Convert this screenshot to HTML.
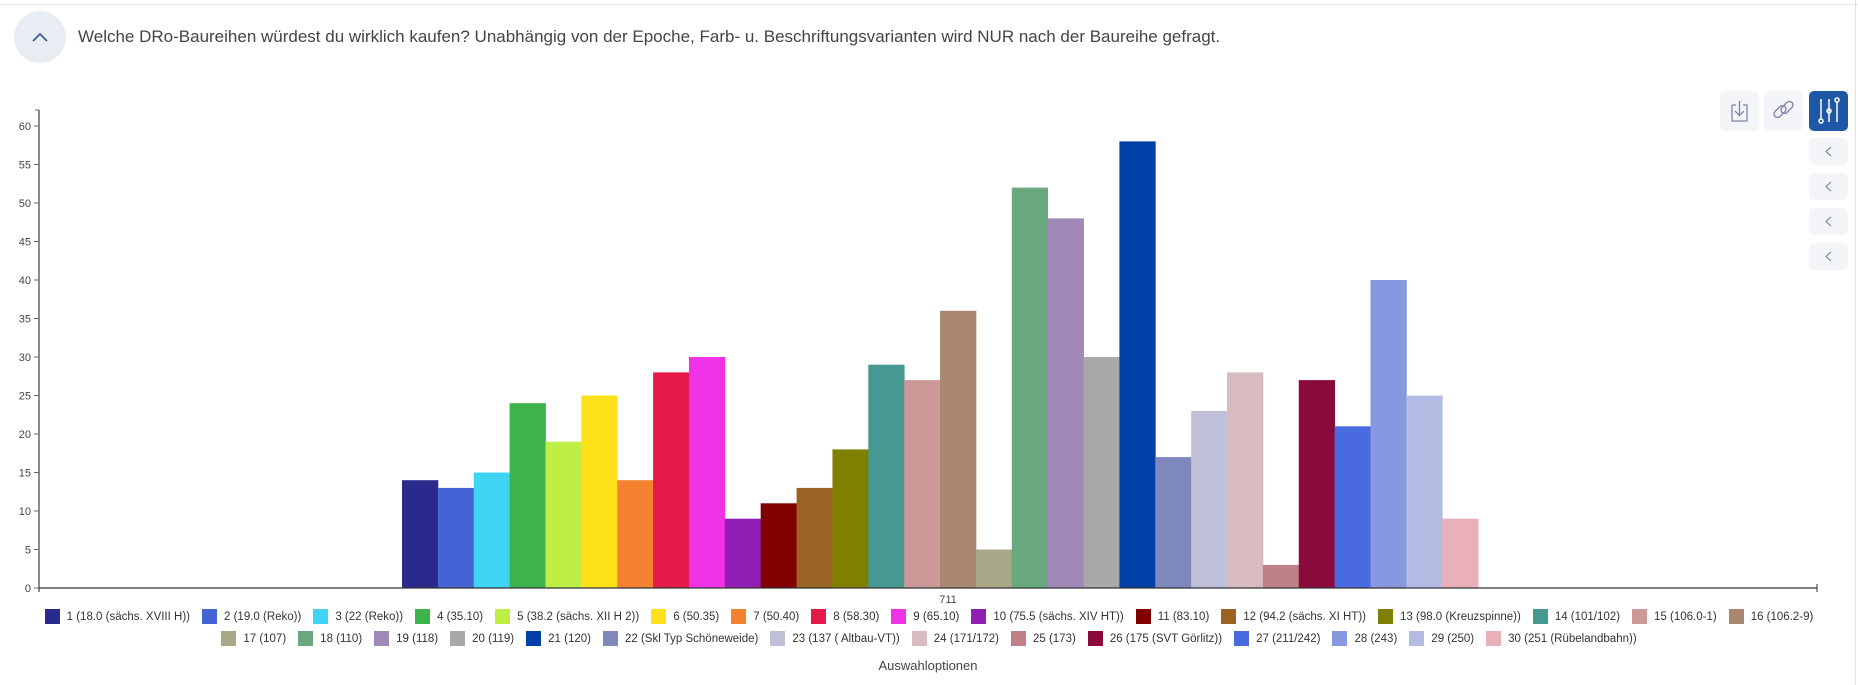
<!DOCTYPE html>
<html><head><meta charset="utf-8"><style>
body{margin:0;width:1858px;height:685px;background:#fff;font-family:"Liberation Sans",sans-serif;position:relative;overflow:hidden}
.top{position:absolute;left:0;top:0;width:1858px;height:4px;border-bottom:1px solid #e6e6e6}
.rb{position:absolute;right:2px;top:0;width:1px;height:685px;background:#e0e0e0}
.circ{position:absolute;left:14px;top:11px;width:52px;height:52px;border-radius:50%;background:#e8edf4}
.title{position:absolute;left:78px;top:27px;font-size:17px;color:#444}
.btn{position:absolute;width:39px;height:40px;border-radius:5px;background:#f3f5f9}
.row{position:absolute;left:0;width:1858px;display:flex;justify-content:center;font-size:11.5px;color:#333;white-space:nowrap}
.row span{display:inline-flex;align-items:center;margin:0 6px}
.row i{display:inline-block;width:15px;height:15px;margin-right:7px}
</style></head><body>
<div class="top"></div><div class="rb"></div>
<div class="circ"><svg width="52" height="52"><path d="M19 30 L26 23 L33 30" fill="none" stroke="#3a5a8c" stroke-width="1.8"/></svg></div>
<div class="title">Welche DRo-Baureihen würdest du wirklich kaufen? Unabhängig von der Epoche, Farb- u. Beschriftungsvarianten wird NUR nach der Baureihe gefragt.</div>
<div class="btn" style="left:1720px;top:91px"><svg width="39" height="40"><path d="M12 14 H16 M23 14 H27 V30 H12 V14 M19.5 10 V24 M15 20 L19.5 24.5 L24 20" fill="none" stroke="#7a88a8" stroke-width="1.3"/></svg></div>
<div class="btn" style="left:1764px;top:91px"><svg width="39" height="40"><g fill="none" stroke="#7a88a8" stroke-width="1.4"><rect x="9" y="17" width="14" height="7" rx="3.5" transform="rotate(-45 16 20.5)"/><rect x="16" y="13" width="14" height="7" rx="3.5" transform="rotate(-45 23 16.5)"/></g></svg></div>
<div class="btn" style="left:1809px;top:91px;background:#1e57a6"><svg width="39" height="40"><g stroke="#fff" stroke-width="1.5" fill="none"><path d="M12 8 V28 M20 8 V31 M28 11 V31"/><circle cx="12" cy="30" r="2"/><circle cx="20" cy="20" r="2"/><circle cx="28" cy="9" r="2"/></g></svg></div>
<div class="btn" style="left:1809px;top:138px;height:27px"><svg width="39" height="27"><path d="M22 9 L17 13.5 L22 18" fill="none" stroke="#8090a8" stroke-width="1.2"/></svg></div>
<div class="btn" style="left:1809px;top:173px;height:27px"><svg width="39" height="27"><path d="M22 9 L17 13.5 L22 18" fill="none" stroke="#8090a8" stroke-width="1.2"/></svg></div>
<div class="btn" style="left:1809px;top:208px;height:27px"><svg width="39" height="27"><path d="M22 9 L17 13.5 L22 18" fill="none" stroke="#8090a8" stroke-width="1.2"/></svg></div>
<div class="btn" style="left:1809px;top:243px;height:27px"><svg width="39" height="27"><path d="M22 9 L17 13.5 L22 18" fill="none" stroke="#8090a8" stroke-width="1.2"/></svg></div>
<svg style="position:absolute;left:0;top:0" width="1858" height="685" id="ch">
<g font-family="Liberation Sans,sans-serif" font-size="11" fill="#444" text-anchor="end" id="yt"></g>
<g id="bars"></g>
<line x1="39" y1="110" x2="39" y2="592" stroke="#666" stroke-width="1.5"/>
<line x1="39" y1="588" x2="1817" y2="588" stroke="#333" stroke-width="1.2"/>
<line x1="1817" y1="584" x2="1817" y2="592" stroke="#333"/>
<line x1="39" y1="110" x2="35" y2="110" stroke="#666"/>
<text x="948" y="603" font-size="11" fill="#444" text-anchor="middle" font-family="Liberation Sans,sans-serif">711</text>
<text x="928" y="670" font-size="13" fill="#444" text-anchor="middle" font-family="Liberation Sans,sans-serif">Auswahloptionen</text>
</svg>
<div class="row" style="top:609px" id="r1"></div>
<div class="row" style="top:631px" id="r2"></div>
<script>
var v=[14,13,15,24,19,25,14,28,30,9,11,13,18,29,27,36,5,52,48,30,58,17,23,28,3,27,21,40,25,9];
var c=["#2a2a8c","#4464d6","#40d4f4","#3cb44b","#bfef45","#ffe119","#f58231","#e6194b","#f032e6","#911eb4","#800000","#9a6324","#808000","#469990","#cc9999","#aa8870","#a8a888","#6aa880","#a088b8","#a9a9a9","#0040a8","#7e88bc","#c0c0d8","#d8bcc0","#c08088","#8b0a3c","#4a6ae0","#8898e0","#b4bce4","#e8b0b8"];
var n=["1 (18.0 (sächs. XVIII H))","2 (19.0 (Reko))","3 (22 (Reko))","4 (35.10)","5 (38.2 (sächs. XII H 2))","6 (50.35)","7 (50.40)","8 (58.30)","9 (65.10)","10 (75.5 (sächs. XIV HT))","11 (83.10)","12 (94.2 (sächs. XI HT))","13 (98.0 (Kreuzspinne))","14 (101/102)","15 (106.0-1)","16 (106.2-9)","17 (107)","18 (110)","19 (118)","20 (119)","21 (120)","22 (Skl Typ Schöneweide)","23 (137 ( Altbau-VT))","24 (171/172)","25 (173)","26 (175 (SVT Görlitz))","27 (211/242)","28 (243)","29 (250)","30 (251 (Rübelandbahn))"];
var ns="http://www.w3.org/2000/svg",b=document.getElementById("bars"),yt=document.getElementById("yt");
var y0=588,k=7.7,w=35.87;
for(var i=0;i<30;i++){var r=document.createElementNS(ns,"rect");r.setAttribute("x",402+i*w);r.setAttribute("width",w+0.4);r.setAttribute("y",y0-v[i]*k);r.setAttribute("height",v[i]*k);r.setAttribute("fill",c[i]);b.appendChild(r);}
for(var t=0;t<=60;t+=5){var y=y0-t*k;var l=document.createElementNS(ns,"line");l.setAttribute("x1",34);l.setAttribute("x2",39);l.setAttribute("y1",y);l.setAttribute("y2",y);l.setAttribute("stroke","#666");yt.appendChild(l);var tx=document.createElementNS(ns,"text");tx.setAttribute("x",31);tx.setAttribute("y",y+4);tx.textContent=t;yt.appendChild(tx);}
for(var i=0;i<30;i++){var s=document.createElement("span");s.innerHTML='<i style="background:'+c[i]+'"></i>'+n[i];document.getElementById(i<16?"r1":"r2").appendChild(s);}
</script>
</body></html>
